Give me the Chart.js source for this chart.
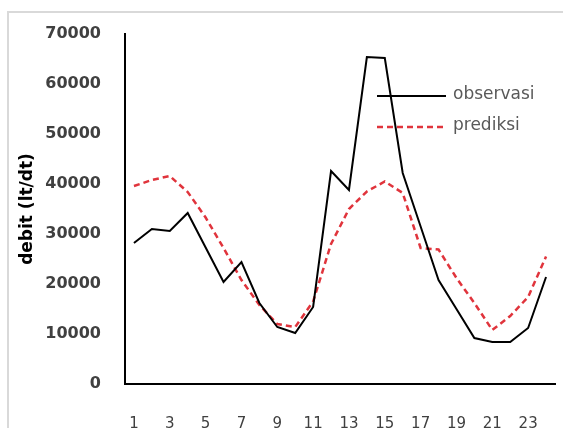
<!DOCTYPE html>
<html>
<head>
<meta charset="utf-8">
<script src="https://cdn.jsdelivr.net/npm/chart.js@4/dist/chart.umd.min.js"></script>
<style>
html,body{margin:0;padding:0;background:#fff;}
#wrap{width:563px;height:428px;}
</style>
</head>
<body>
<div id="wrap"><canvas id="c" width="563" height="428"></canvas></div>
<script>
const categories = ['1','2','3','4','5','6','7','8','9','10','11','12','13','14','15','16','17','18','19','20','21','22','23','24'];
const observasi = [28200,31000,30600,34200,27300,20400,24400,16200,11400,10200,15400,42600,38800,65400,65200,42200,31500,20800,15000,9200,8400,8400,11200,21400];
const prediksi = [39600,40800,41600,38400,33300,27200,20800,15800,12000,11400,16500,28000,35000,38500,40500,38200,27200,26900,21200,16200,10800,13600,17400,25500];
const yTicks = [0,10000,20000,30000,40000,50000,60000,70000];
const seriesNames = ['observasi','prediksi'];

const frame = {
  id:'frame',
  beforeDraw(chart){
    const ctx = chart.ctx;
    ctx.save();
    ctx.fillStyle = '#fff';
    ctx.fillRect(0,0,chart.width,chart.height);
    ctx.strokeStyle = '#d9d9d9';
    ctx.lineWidth = 2;
    ctx.beginPath();
    ctx.moveTo(8, chart.height);
    ctx.lineTo(8, 12);
    ctx.lineTo(chart.width, 12);
    ctx.stroke();
    ctx.restore();
  }
};

const innerLegend = {
  id:'innerLegend',
  afterDraw(chart){
    const ctx = chart.ctx;
    const a = chart.chartArea;
    ctx.save();
    chart.data.datasets.forEach((ds,i)=>{
      const y = a.top + 62 + i*31;
      const x0 = a.left + 252, x1 = a.left + 321;
      ctx.strokeStyle = ds.borderColor;
      ctx.lineWidth = ds.borderWidth;
      ctx.setLineDash(ds.borderDash || []);
      ctx.beginPath(); ctx.moveTo(x0,y); ctx.lineTo(x1,y); ctx.stroke();
      ctx.setLineDash([]);
      ctx.fillStyle = '#595959';
      ctx.font = '17px "DejaVu Sans"';
      ctx.textBaseline = 'middle';
      ctx.textAlign = 'left';
      ctx.fillText(ds.label, x1 + 7, y - 1);
    });
    ctx.restore();
  }
};

new Chart(document.getElementById('c'), {
  type:'line',
  data:{
    labels: categories,
    datasets:[
      {label: seriesNames[0], data: observasi, borderColor:'#000000', borderWidth:2, pointRadius:0, tension:0, fill:false},
      {label: seriesNames[1], data: prediksi, borderColor:'#e0343c', borderWidth:2.5, borderDash:[6,4], pointRadius:0, tension:0, fill:false}
    ]
  },
  options:{
    responsive:false,
    animation:false,
    layout:{padding:{top:34,right:8,left:0,bottom:0}},
    plugins:{legend:{display:false}, tooltip:{enabled:false}},
    scales:{
      x:{
        offset:true,
        grid:{display:false, drawTicks:false},
        border:{display:true, color:'#000', width:2},
        ticks:{
          autoSkip:false, maxRotation:0, padding:31, color:'#404040',
          font:{family:'DejaVu Sans', size:15},
          callback:function(v,i){ return i%2===0 ? categories[i] : ''; }
        },
        afterFit(s){ s.height = 44; s.paddingLeft = 0; s.paddingRight = 0; }
      },
      y:{
        min:0, max:70000,
        afterBuildTicks(s){ s.ticks = yTicks.map(v=>({value:v})); },
        grid:{display:false, drawTicks:false},
        border:{display:true, color:'#000', width:2},
        ticks:{padding:24, color:'#404040', font:{family:'DejaVu Sans', size:16, weight:'bold'},
          callback:function(v){ return String(v); }},
        title:{display:true, text:'debit (lt/dt)', color:'#000', font:{family:'DejaVu Sans', size:17, weight:'bold'}, padding:{top:17,bottom:0}},
        afterFit(s){ s.width = 125; s.paddingTop = 0; s.paddingBottom = 0; }
      }
    }
  },
  plugins:[frame, innerLegend]
});
</script>
</body>
</html>
